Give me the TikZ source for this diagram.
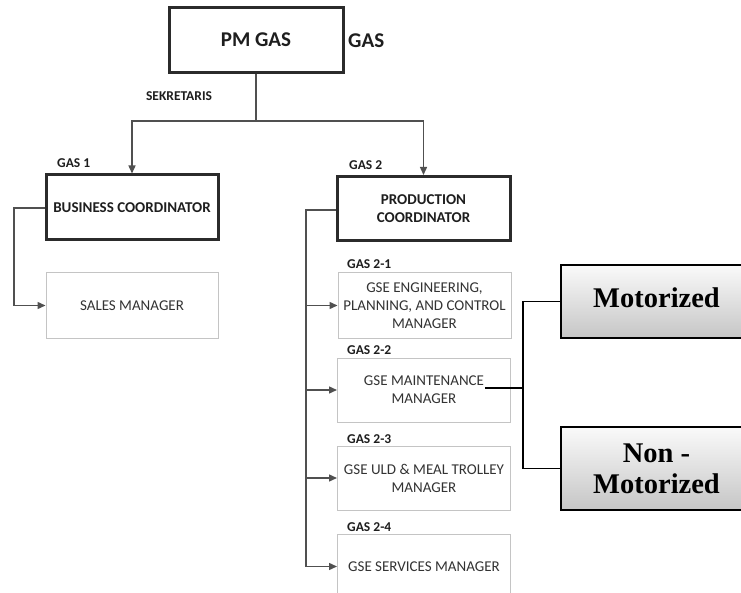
\documentclass[tikz,border=0pt]{standalone}
\usepackage{fontspec}
\setmainfont{Carlito}
\newfontfamily\tnr{Liberation Serif}
\usetikzlibrary{arrows.meta}
\definecolor{linegray}{HTML}{505050}
\definecolor{boxedge}{HTML}{2B2B2B}
\definecolor{thinedge}{HTML}{C4C4C4}
\definecolor{txt}{HTML}{1E1E1E}
\definecolor{mgrtxt}{HTML}{333333}
\tikzset{
  x=1pt, y=-1pt,
  coordbox/.style={draw=boxedge, line width=3pt, minimum height=64pt, align=center,
    inner sep=2pt, font=\fontsize{15}{18}\selectfont\bfseries, text=txt},
  mgrbox/.style={draw=thinedge, line width=1pt, minimum width=173pt, minimum height=65pt,
    align=center, inner sep=2pt, font=\fontsize{15}{18}\selectfont, text=mgrtxt},
  tag/.style={font=\fontsize{13.5}{15}\selectfont\bfseries, text=txt, inner sep=0pt},
  conn/.style={draw=linegray, line width=1.4pt},
  arr/.style={conn, -{Triangle[length=8pt,width=7pt]}},
  kindbox/.style={draw=black, line width=2pt, top color=white!96!gray, bottom color=gray!45,
    minimum width=191pt, align=center, inner sep=2pt,
    font=\tnr\fontsize{28.5}{31}\selectfont\bfseries},
  link/.style={draw=black, line width=1.4pt}
}
\begin{document}
\begin{tikzpicture}
\clip (0,0) rectangle (741,593);
\fill[white] (0,0) rectangle (741,593);

% top of the chart
\node[coordbox, minimum width=174pt, minimum height=65pt, font=\fontsize{21}{25}\selectfont\bfseries] (pm) at (256,40) {PM GAS};
\node[font=\fontsize{21}{25}\selectfont\bfseries, text=txt, anchor=west, inner sep=0pt] (gasside) at (348,41) {GAS};
\node[tag] (sek) at (179,96) {SEKRETARIS};

% coordinators
\node[coordbox, minimum width=172pt, minimum height=65pt] (bc) at (132,207.5) {BUSINESS COORDINATOR};
\node[tag, anchor=west] (gas1) at (57,163) {GAS 1};
\node[coordbox, minimum width=173pt] (pc) at (423.5,208.5) {PRODUCTION\\COORDINATOR};
\node[tag, anchor=west] (gas2) at (349,165) {GAS 2};

% managers
\node[mgrbox, minimum width=172pt] (sm) at (132,305.5) {SALES MANAGER};
\node[mgrbox] (eng) at (424.5,305.5) {GSE ENGINEERING,\\PLANNING, AND CONTROL\\MANAGER};
\node[tag, anchor=west] (gas21) at (347,264) {GAS 2-1};
\node[mgrbox, minimum height=64pt] (mnt) at (424,390) {GSE MAINTENANCE\\MANAGER};
\node[tag, anchor=west] (gas22) at (347,350) {GAS 2-2};
\node[mgrbox, minimum height=64pt] (uld) at (424,478) {GSE ULD \& MEAL TROLLEY\\MANAGER};
\node[tag, anchor=west] (gas23) at (347,439) {GAS 2-3};
\node[mgrbox] (srv) at (424,566.5) {GSE SERVICES MANAGER};
\node[tag, anchor=west] (gas24) at (347,527) {GAS 2-4};

% vehicle categories
\node[kindbox, minimum height=73pt] (mot) at (656.5,301.5) {\raisebox{8pt}{Motorized}};
\node[kindbox, minimum height=83pt] (nmot) at (656.5,468.5) {Non -\\Motorized};

% connectors
\coordinate (hub) at (256,121);
\draw[conn] (pm.south) -- (hub);
\draw[arr] (hub) -| (bc.north);
\draw[arr] (hub) -| (pc.north);

\coordinate (bcl) at (14,208);
\draw[arr] (bc.west |- bcl) -- (bcl) |- (sm.west);

\coordinate (pcl) at (306,210);
\draw[conn] (pc.west |- pcl) -- (pcl) -- (pcl |- srv.west);
\draw[arr] (pcl |- eng.west) -- (eng.west);
\draw[arr] (pcl |- mnt.west) -- (mnt.west);
\draw[arr] (pcl |- uld.west) -- (uld.west);
\draw[arr] (pcl |- srv.west) -- (srv.west);

\coordinate (mtail) at (485,388);
\coordinate (split) at (523,388);
\draw[link] (mtail) -- (split);
\draw[link] (split |- mot.west) -- (split |- nmot.west);
\draw[link] (split |- mot.west) -- (mot.west);
\draw[link] (split |- nmot.west) -- (nmot.west);
\end{tikzpicture}
\end{document}
